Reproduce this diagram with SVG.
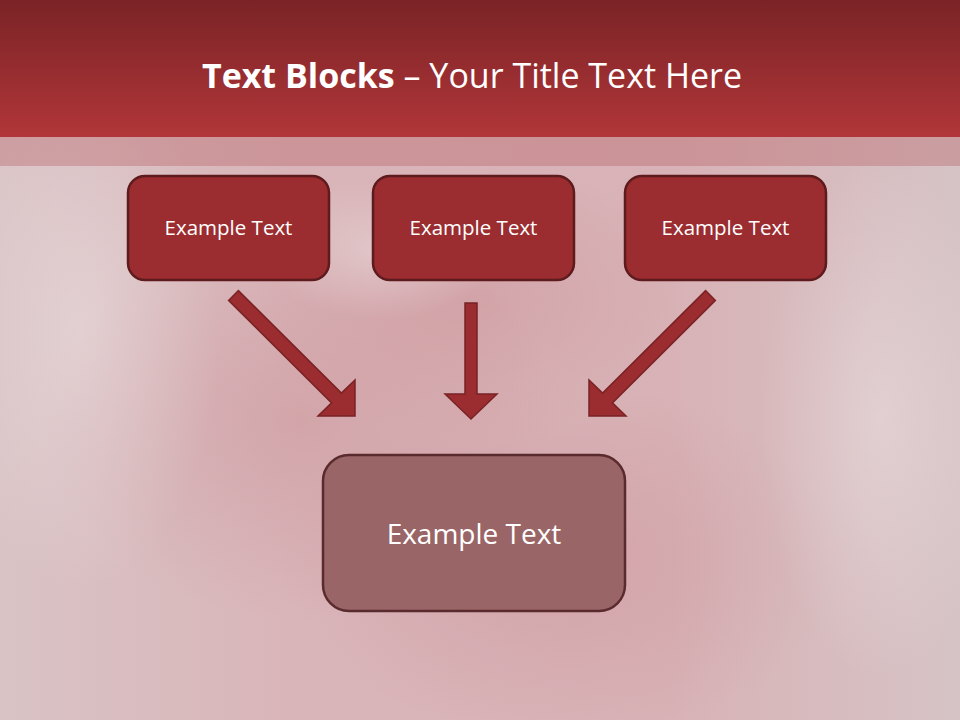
<svg xmlns="http://www.w3.org/2000/svg" width="960" height="720" viewBox="0 0 960 720">
<defs>
<linearGradient id="hdr" x1="0" y1="0" x2="0" y2="1">
<stop offset="0" stop-color="#7a2326"/>
<stop offset="1" stop-color="#b13639"/>
</linearGradient>
<linearGradient id="bg" x1="0" y1="0" x2="1" y2="0">
<stop offset="0" stop-color="#d9c3c5"/>
<stop offset="0.3" stop-color="#d9b5b9"/>
<stop offset="0.7" stop-color="#d8b2b6"/>
<stop offset="1" stop-color="#d6c3c5"/>
</linearGradient>
<radialGradient id="blotch" cx="0.5" cy="0.5" r="0.5">
<stop offset="0" stop-color="#c98d93" stop-opacity="0.4"/>
<stop offset="1" stop-color="#c98d93" stop-opacity="0"/>
</radialGradient>
<radialGradient id="light" cx="0.5" cy="0.5" r="0.5">
<stop offset="0" stop-color="#ece0e1" stop-opacity="0.5"/>
<stop offset="1" stop-color="#ece0e1" stop-opacity="0"/>
</radialGradient>
<style>
.top{fill:#9b2d30;stroke:#5e1b1d;stroke-width:2.5}
.bot{fill:#9a6566;stroke:#5a2b2e;stroke-width:2.5}
.lbl{font-family:"Open Sans","Liberation Sans",sans-serif;fill:#ffffff;text-anchor:middle}
.arr{fill:#9b2d30;stroke:#7a2224;stroke-width:1.5;stroke-linejoin:miter}
</style>
</defs>
<rect x="0" y="0" width="960" height="720" fill="url(#bg)"/>
<ellipse cx="300" cy="420" rx="260" ry="200" fill="url(#blotch)"/>
<ellipse cx="560" cy="560" rx="280" ry="180" fill="url(#blotch)"/>
<ellipse cx="470" cy="300" rx="220" ry="140" fill="url(#blotch)"/>
<ellipse cx="80" cy="330" rx="140" ry="260" fill="url(#light)"/>
<ellipse cx="880" cy="420" rx="120" ry="260" fill="url(#light)"/>
<ellipse cx="380" cy="250" rx="120" ry="70" fill="url(#light)"/>
<rect x="0" y="0" width="960" height="137" fill="url(#hdr)"/>
<rect x="0" y="137" width="960" height="29" fill="#b9676b" fill-opacity="0.4"/>
<text x="472" y="88" font-family="'Open Sans','Liberation Sans',sans-serif" font-size="34" fill="#ffffff" text-anchor="middle"><tspan font-weight="bold">Text Blocks</tspan> – Your Title Text Here</text>
<g id="connectors">
<polygon class="arr" points="238.4,290.6 341.4,393.1 355,380 355,416 318,416 331.6,402.9 228.6,300.4"/>
<polygon class="arr" points="465,303 477,303 477,394 497,394 471,419 445,394 465,394"/>
<polygon class="arr" points="705.6,290.6 602.6,393.1 589,380 589,416 626,416 612.4,402.9 715.4,300.4"/>
</g>
<g id="node1">
<rect class="top" x="128" y="176" width="201" height="104" rx="17"/>
<text class="lbl" x="228.5" y="235" font-size="20.5">Example Text</text>
</g>
<g id="node2">
<rect class="top" x="373" y="176" width="201" height="104" rx="17"/>
<text class="lbl" x="473.5" y="235" font-size="20.5">Example Text</text>
</g>
<g id="node3">
<rect class="top" x="625" y="176" width="201" height="104" rx="17"/>
<text class="lbl" x="725.5" y="235" font-size="20.5">Example Text</text>
</g>
<g id="node4">
<rect class="bot" x="323" y="455" width="302" height="156" rx="26"/>
<text class="lbl" x="474" y="544" font-size="28">Example Text</text>
</g>
</svg>
